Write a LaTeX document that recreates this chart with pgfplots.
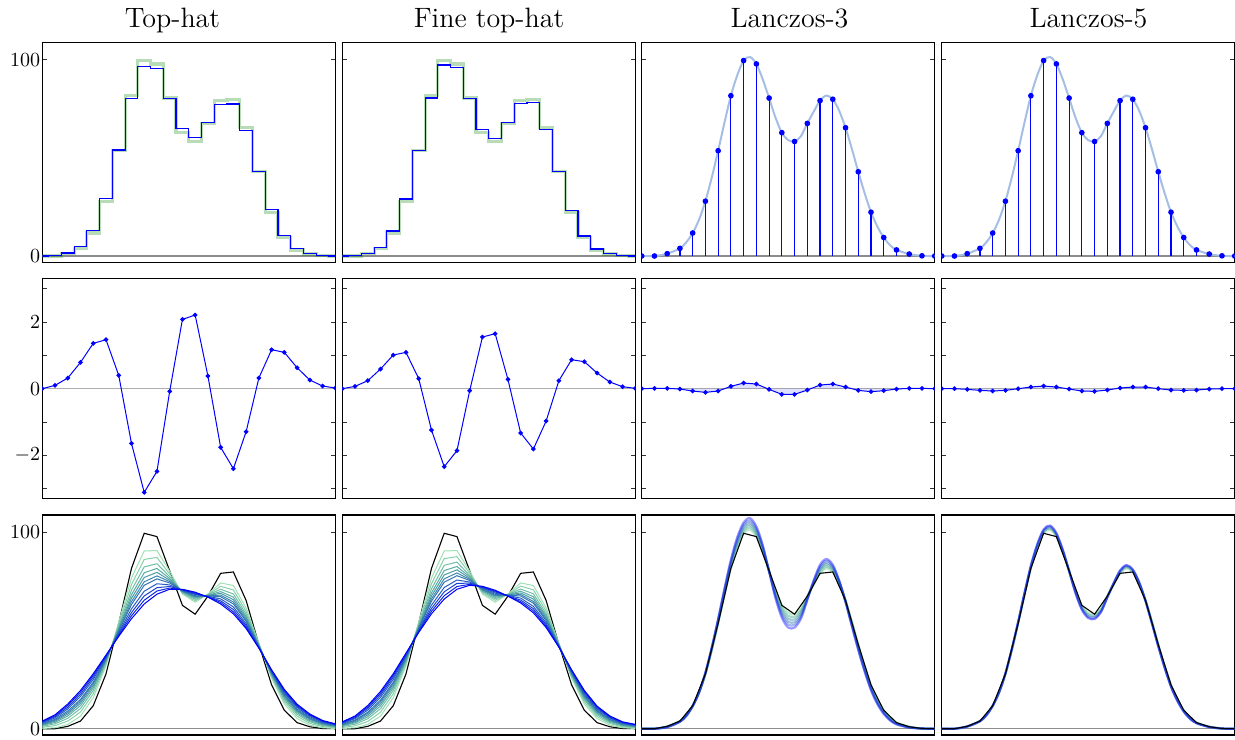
\documentclass[border=0pt]{standalone}
\usepackage{pgfplots}
\usepackage{pgfplotstable}
\pgfplotsset{compat=1.18}

\definecolor{f0}{RGB}{160,225,180}
\definecolor{f1}{RGB}{135,208,172}
\definecolor{f2}{RGB}{112,190,166}
\definecolor{f3}{RGB}{92,172,164}
\definecolor{f4}{RGB}{76,154,166}
\definecolor{f5}{RGB}{62,136,172}
\definecolor{f6}{RGB}{50,116,182}
\definecolor{f7}{RGB}{38,92,196}
\definecolor{f8}{RGB}{26,66,212}
\definecolor{f9}{RGB}{14,36,232}
\definecolor{f10}{RGB}{0,0,255}
\definecolor{gg}{RGB}{0,128,0}
\definecolor{sc}{RGB}{165,190,228}
\definecolor{zl}{RGB}{140,140,140}

% samples: original, reconstructions and errors
\pgfplotstableread{
x o rt rf et ef e3 e5
0 0 0 0 0 0 0 0
1 0 0.1 0.1 0.10 0.07 0.01 0
2 1.2 1.5 1.4 0.32 0.24 0.01 -0.02
3 3.9 4.7 4.5 0.79 0.59 -0.01 -0.05
4 11.7 13.1 12.7 1.36 1.01 -0.07 -0.07
5 27.9 29.4 29.0 1.47 1.09 -0.11 -0.05
6 53.6 54.0 53.9 0.40 0.30 -0.07 0
7 81.6 80.0 80.4 -1.64 -1.24 0.07 0.05
8 99.5 96.4 97.2 -3.11 -2.34 0.17 0.08
9 97.8 95.3 95.9 -2.48 -1.86 0.14 0.05
10 80.4 80.3 80.3 -0.08 -0.06 -0.02 -0.01
11 62.8 64.9 64.4 2.08 1.55 -0.17 -0.07
12 58.3 60.5 60.0 2.21 1.65 -0.17 -0.08
13 67.5 67.9 67.8 0.38 0.28 -0.04 -0.04
14 79.1 77.3 77.8 -1.76 -1.33 0.11 0.02
15 79.8 77.4 78.0 -2.40 -1.81 0.14 0.05
16 65.3 64.0 64.3 -1.29 -0.97 0.05 0.05
17 42.9 43.2 43.1 0.32 0.24 -0.05 0
18 22.3 23.5 23.2 1.17 0.87 -0.09 -0.04
19 9.4 10.5 10.2 1.09 0.81 -0.06 -0.05
20 3.1 3.7 3.6 0.63 0.47 -0.01 -0.04
21 1.0 1.3 1.2 0.26 0.20 0.01 -0.01
22 0.1 0.2 0.2 0.08 0.06 0.01 0
23 0 0 0 0.02 0.01 0 0
}\samp

\pgfplotstableread{
x c0 c1 c2 c3 c4 c5 c6 c7 c8 c9 c10
0 0.1 0.7 1.2 1.7 2.0 2.3 2.6 3.0 3.3 3.6 3.9
1 0.5 1.6 2.5 3.2 3.8 4.3 4.8 5.5 6.1 6.6 7.1
2 2.2 3.9 5.3 6.5 7.4 8.2 9.0 10.1 11.0 11.9 12.6
3 6.4 8.5 10.3 11.8 13.0 14.0 14.9 16.4 17.5 18.6 19.5
4 15.8 17.8 19.5 20.8 21.9 22.9 23.7 25.1 26.2 27.2 28.0
5 32.1 33.0 33.7 34.3 34.8 35.2 35.6 36.2 36.7 37.1 37.5
6 54.4 53.2 52.2 51.4 50.7 50.1 49.6 48.8 48.1 47.5 47.0
7 76.7 73.4 70.5 68.2 66.4 64.7 63.2 61.0 59.1 57.5 56.0
8 90.5 86.2 82.4 79.4 77.0 74.8 73.0 70.0 67.6 65.4 63.5
9 90.7 87.2 84.0 81.6 79.6 77.8 76.3 73.8 71.8 70.1 68.5
10 80.2 78.7 77.4 76.4 75.6 74.9 74.2 73.2 72.4 71.6 71.0
11 68.6 69.0 69.3 69.6 69.8 70.0 70.2 70.4 70.6 70.8 71.0
12 64.4 65.2 65.9 66.5 67.0 67.4 67.7 68.3 68.7 69.1 69.5
13 68.6 68.3 68.1 67.9 67.8 67.7 67.6 67.4 67.2 67.1 67.0
14 74.2 72.5 71.0 69.8 68.9 68.0 67.2 66.1 65.1 64.3 63.5
15 72.9 70.6 68.6 67.0 65.7 64.5 63.5 62.0 60.7 59.5 58.5
16 61.5 59.8 58.4 57.2 56.3 55.4 54.7 53.5 52.6 51.7 51.0
17 43.6 43.2 42.8 42.5 42.3 42.1 41.9 41.6 41.4 41.2 41.0
18 25.7 26.4 27.0 27.5 27.9 28.2 28.5 29.0 29.4 29.7 30.0
19 12.6 13.8 14.8 15.6 16.3 16.9 17.4 18.2 18.9 19.5 20.0
20 5.2 6.4 7.4 8.2 8.9 9.4 10.0 10.8 11.4 12.0 12.5
21 1.8 2.7 3.5 4.1 4.7 5.1 5.5 6.1 6.7 7.1 7.5
22 0.5 1.1 1.6 2.0 2.4 2.7 2.9 3.3 3.7 3.9 4.2
23 0.1 0.5 0.8 1.1 1.3 1.5 1.7 1.9 2.1 2.3 2.5
}\tophat

\pgfplotstableread{
x c0 c1 c2 c3 c4 c5 c6 c7 c8 c9 c10
0 0.1 0.6 1.1 1.5 1.8 2.1 2.3 2.7 3.0 3.3 3.5
1 0.5 1.5 2.3 3.0 3.5 4.0 4.4 5.1 5.6 6.1 6.5
2 2.2 3.7 5.1 6.1 7.0 7.8 8.4 9.5 10.4 11.1 11.8
3 6.4 8.4 10.2 11.6 12.7 13.7 14.6 16.0 17.1 18.1 19.0
4 15.8 17.8 19.5 20.8 21.9 22.9 23.7 25.1 26.2 27.2 28.0
5 32.1 33.1 34.0 34.7 35.3 35.8 36.3 37.0 37.5 38.1 38.5
6 54.4 53.5 52.8 52.2 51.7 51.3 50.9 50.3 49.8 49.4 49.0
7 76.7 73.8 71.2 69.2 67.6 66.1 64.9 62.9 61.2 59.8 58.5
8 90.5 86.6 83.2 80.5 78.3 76.3 74.6 71.9 69.7 67.7 66.0
9 90.7 87.6 84.8 82.6 80.9 79.3 77.9 75.7 74.0 72.4 71.0
10 80.2 79.1 78.0 77.3 76.6 76.0 75.5 74.7 74.1 73.5 73.0
11 68.6 69.2 69.8 70.2 70.6 70.9 71.1 71.6 71.9 72.2 72.5
12 64.4 65.4 66.2 66.9 67.5 67.9 68.4 69.0 69.6 70.1 70.5
13 68.6 68.4 68.3 68.2 68.1 68.0 67.9 67.8 67.7 67.6 67.5
14 74.2 72.6 71.1 70.0 69.1 68.3 67.6 66.5 65.5 64.7 64.0
15 72.9 70.7 68.7 67.2 66.0 64.8 63.9 62.3 61.1 60.0 59.0
16 61.5 59.9 58.5 57.4 56.5 55.7 55.0 53.9 53.0 52.2 51.5
17 43.6 43.3 43.0 42.7 42.6 42.4 42.2 42.0 41.8 41.7 41.5
18 25.7 26.4 27.0 27.5 27.9 28.2 28.5 29.0 29.4 29.7 30.0
19 12.6 13.7 14.7 15.4 16.1 16.6 17.1 17.8 18.5 19.0 19.5
20 5.2 6.2 7.1 7.8 8.4 8.9 9.3 10.0 10.6 11.1 11.5
21 1.8 2.6 3.2 3.7 4.2 4.5 4.9 5.4 5.8 6.2 6.5
22 0.5 1.0 1.4 1.7 2.0 2.2 2.5 2.8 3.1 3.3 3.5
23 0.1 0.4 0.7 1.0 1.2 1.3 1.5 1.7 1.9 2.1 2.2
}\finehat

\pgfplotstableread{
x s c1 c2 c3 c4 c5
0 0 0 0 0 0 0
1 0 0 0 0 0 0
2 1.2 1.1 1.0 1.0 0.9 0.8
3 3.9 3.8 3.7 3.7 3.6 3.5
3.5 7.0 6.9 6.8 6.7 6.6 6.5
4 11.7 11.7 11.6 11.6 11.5 11.5
4.5 18.5 18.5 18.5 18.5 18.5 18.5
5 27.9 28.0 28.1 28.3 28.4 28.5
5.5 40.0 40.3 40.6 40.9 41.2 41.5
6 53.6 54.1 54.6 55.0 55.5 56.0
6.5 68.0 68.7 69.4 70.1 70.8 71.5
7 81.6 82.5 83.4 84.2 85.1 86.0
7.5 92.0 93.1 94.2 95.3 96.4 97.5
8 99.5 100.6 101.7 102.8 103.9 105.0
8.5 101.3 102.5 103.7 104.8 106.0 107.2
9 97.8 98.8 99.9 100.9 102.0 103.0
9.5 90.0 90.7 91.4 92.1 92.8 93.5
10 80.4 80.3 80.2 80.2 80.1 80.0
10.5 70.5 69.7 68.9 68.1 67.3 66.5
11 62.8 61.5 60.3 59.0 57.8 56.5
11.5 59.0 57.5 56.0 54.5 53.0 51.5
12 58.3 56.9 55.6 54.2 52.9 51.5
12.5 61.0 60.0 59.0 58.0 57.0 56.0
13 67.5 67.1 66.7 66.3 65.9 65.5
13.5 73.5 73.9 74.3 74.7 75.1 75.5
14 79.1 80.0 80.9 81.7 82.6 83.5
14.5 81.7 82.6 83.6 84.5 85.5 86.4
15 79.8 80.5 81.3 82.0 82.8 83.5
15.5 74.0 74.3 74.6 74.9 75.2 75.5
16 65.3 65.1 65.0 64.8 64.7 64.5
16.5 54.5 54.0 53.5 53.0 52.5 52.0
17 42.9 42.3 41.7 41.2 40.6 40.0
17.5 32.0 31.4 30.8 30.2 29.6 29.0
18 22.3 21.7 21.2 20.6 20.1 19.5
18.5 15.0 14.5 14.0 13.5 13.0 12.5
19 9.4 9.0 8.6 8.3 7.9 7.5
19.5 5.5 5.2 5.0 4.7 4.5 4.2
20 3.1 2.9 2.7 2.6 2.4 2.2
21 1.0 0.9 0.8 0.8 0.7 0.6
22 0.1 0.1 0.1 0.1 0.1 0.1
23 0 0 0 0 0 0
}\lthree

\pgfplotstableread{
x s c1 c2 c3
0 0 0 0 0
1 0 0 0 0
2 1.2 1.2 1.1 1.1
3 3.9 3.9 3.8 3.8
3.5 7.0 6.9 6.9 6.8
4 11.7 11.7 11.7 11.6
4.5 18.5 18.5 18.5 18.5
5 27.9 28.0 28.0 28.1
5.5 40.0 40.2 40.4 40.5
6 53.6 53.9 54.2 54.4
6.5 68.0 68.4 68.8 69.2
7 81.6 82.1 82.7 83.1
7.5 92.0 92.7 93.3 93.9
8 99.5 100.2 100.8 101.4
8.5 101.3 102.0 102.7 103.4
9 97.8 98.4 99.0 99.6
9.5 90.0 90.4 90.8 91.2
10 80.4 80.4 80.3 80.3
10.5 70.5 70.0 69.5 69.1
11 62.8 62.0 61.3 60.6
11.5 59.0 58.1 57.2 56.4
12 58.3 57.5 56.7 55.9
12.5 61.0 60.4 59.8 59.3
13 67.5 67.3 67.0 66.8
13.5 73.5 73.7 74.0 74.2
14 79.1 79.6 80.2 80.6
14.5 81.7 82.3 82.8 83.3
15 79.8 80.2 80.7 81.1
15.5 74.0 74.2 74.4 74.5
16 65.3 65.2 65.1 65.0
16.5 54.5 54.2 53.9 53.6
17 42.9 42.6 42.2 41.9
17.5 32.0 31.6 31.3 31.0
18 22.3 22.0 21.6 21.3
18.5 15.0 14.7 14.4 14.1
19 9.4 9.2 8.9 8.7
19.5 5.5 5.3 5.2 5.0
20 3.1 3.0 2.9 2.8
21 1.0 1.0 0.9 0.9
22 0.1 0.1 0.1 0.1
23 0 0 0 0
}\lfive

\pgfplotsset{
  panel/.style={
    scale only axis, width=146.5pt, height=110pt,
    anchor=north west,
    xmin=0, xmax=23, xtick=\empty,
    tick align=inside, major tick length=2.2pt, minor tick length=2.2pt,
    axis line style={line width=0.6pt},
    every tick/.style={black!80, line width=0.5pt},
    yticklabel style={font=\fontsize{10}{12}\selectfont, inner xsep=0.85pt},
    clip marker paths=true,
  },
  big/.style={panel, ymin=-3.2, ymax=108.8, ytick={0,100}},
  mid/.style={panel, ymin=-3.3, ymax=3.3, ytick={-2,0,2}, minor ytick={-3,-1,1,3}},
  nolab/.style={yticklabels=\empty},
}

\begin{document}
\begin{tikzpicture}
\useasboundingbox (0,0) rectangle (617.5pt,369.5pt);

\node[anchor=base, font=\fontsize{14}{16}\selectfont] at (86.25pt,355.5pt) {Top-hat};
\node[anchor=base, font=\fontsize{14}{16}\selectfont] at (244.5pt,355.5pt) {Fine top-hat};
\node[anchor=base, font=\fontsize{14}{16}\selectfont] at (394.75pt,355.5pt) {Lanczos-3};
\node[anchor=base, font=\fontsize{14}{16}\selectfont] at (544.25pt,355.5pt) {Lanczos-5};

% ---------- Row 1 ----------
\begin{axis}[big, at={(21.15pt,348.35pt)}]
\addplot[zl, line width=0.6pt] coordinates {(0,0) (23,0)};
\addplot[const plot mark mid, gg, opacity=0.28, line width=1.6pt] table[x=x,y=o]{\samp};
\addplot[const plot mark mid, blue, line width=0.6pt] table[x=x,y=rt]{\samp};
\end{axis}
\begin{axis}[big, nolab, at={(171.15pt,348.35pt)}]
\addplot[zl, line width=0.6pt] coordinates {(0,0) (23,0)};
\addplot[const plot mark mid, gg, opacity=0.28, line width=1.6pt] table[x=x,y=o]{\samp};
\addplot[const plot mark mid, blue, line width=0.6pt] table[x=x,y=rf]{\samp};
\end{axis}
\begin{axis}[big, nolab, at={(320.85pt,348.35pt)}]
\addplot[zl, line width=0.6pt] coordinates {(0,0) (23,0)};
\addplot[sc, line width=1.0pt, smooth] table[x=x,y=s]{\lthree};
\addplot[ycomb, blue, line width=0.6pt, mark=*, mark size=1.1pt] table[x=x,y=o]{\samp};
\end{axis}
\begin{axis}[big, nolab, at={(470.85pt,348.35pt)}]
\addplot[zl, line width=0.6pt] coordinates {(0,0) (23,0)};
\addplot[sc, line width=1.0pt, smooth] table[x=x,y=s]{\lfive};
\addplot[ycomb, blue, line width=0.6pt, mark=*, mark size=1.1pt] table[x=x,y=o]{\samp};
\end{axis}

% ---------- Row 2 ----------
\begin{axis}[mid, at={(21.15pt,230.15pt)}]
\addplot[zl!70, line width=0.6pt] coordinates {(0,0) (23,0)};
\addplot[blue, line width=0.5pt, mark=*, mark size=0.9pt] table[x=x,y=et]{\samp};
\end{axis}
\begin{axis}[mid, nolab, at={(171.15pt,230.15pt)}]
\addplot[zl!70, line width=0.6pt] coordinates {(0,0) (23,0)};
\addplot[blue, line width=0.5pt, mark=*, mark size=0.9pt] table[x=x,y=ef]{\samp};
\end{axis}
\begin{axis}[mid, nolab, at={(320.85pt,230.15pt)}]
\addplot[zl!70, line width=0.6pt] coordinates {(0,0) (23,0)};
\addplot[fill=blue, fill opacity=0.12, draw=none] table[x=x,y=e3]{\samp} \closedcycle;
\addplot[blue, line width=0.5pt, mark=*, mark size=0.9pt] table[x=x,y=e3]{\samp};
\end{axis}
\begin{axis}[mid, nolab, at={(470.85pt,230.15pt)}]
\addplot[zl!70, line width=0.6pt] coordinates {(0,0) (23,0)};
\addplot[fill=blue, fill opacity=0.12, draw=none] table[x=x,y=e5]{\samp} \closedcycle;
\addplot[blue, line width=0.5pt, mark=*, mark size=0.9pt] table[x=x,y=e5]{\samp};
\end{axis}

% ---------- Row 3 ----------
\begin{axis}[big, at={(21.15pt,112pt)}]
\addplot[zl, line width=0.6pt] coordinates {(0,0) (23,0)};
\addplot[black, line width=0.55pt] table[x=x,y=o]{\samp};
\pgfplotsinvokeforeach{0,...,10}{\addplot[f#1, line width=0.5pt] table[x=x,y=c#1]{\tophat};}
\end{axis}
\begin{axis}[big, nolab, at={(171.15pt,112pt)}]
\addplot[zl, line width=0.6pt] coordinates {(0,0) (23,0)};
\addplot[black, line width=0.55pt] table[x=x,y=o]{\samp};
\pgfplotsinvokeforeach{0,...,10}{\addplot[f#1, line width=0.5pt] table[x=x,y=c#1]{\finehat};}
\end{axis}
\begin{axis}[big, nolab, at={(320.85pt,112pt)}]
\addplot[zl, line width=0.6pt] coordinates {(0,0) (23,0)};
\addplot[f0, opacity=0.7, line width=1.1pt, smooth] table[x=x,y=s]{\lthree};
\addplot[f2, opacity=0.6, line width=1.1pt, smooth] table[x=x,y=c1]{\lthree};
\addplot[f4, opacity=0.5, line width=1.1pt, smooth] table[x=x,y=c2]{\lthree};
\addplot[f6, opacity=0.45, line width=1.1pt, smooth] table[x=x,y=c3]{\lthree};
\addplot[f8, opacity=0.4, line width=1.1pt, smooth] table[x=x,y=c4]{\lthree};
\addplot[f10, opacity=0.4, line width=1.1pt, smooth] table[x=x,y=c5]{\lthree};
\addplot[black, line width=0.55pt] table[x=x,y=o]{\samp};
\end{axis}
\begin{axis}[big, nolab, at={(470.85pt,112pt)}]
\addplot[zl, line width=0.6pt] coordinates {(0,0) (23,0)};
\addplot[f0, opacity=0.7, line width=1.1pt, smooth] table[x=x,y=s]{\lfive};
\addplot[f3, opacity=0.6, line width=1.1pt, smooth] table[x=x,y=c1]{\lfive};
\addplot[f7, opacity=0.5, line width=1.1pt, smooth] table[x=x,y=c2]{\lfive};
\addplot[f10, opacity=0.5, line width=1.1pt, smooth] table[x=x,y=c3]{\lfive};
\addplot[black, line width=0.55pt] table[x=x,y=o]{\samp};
\end{axis}
\end{tikzpicture}
\end{document}
